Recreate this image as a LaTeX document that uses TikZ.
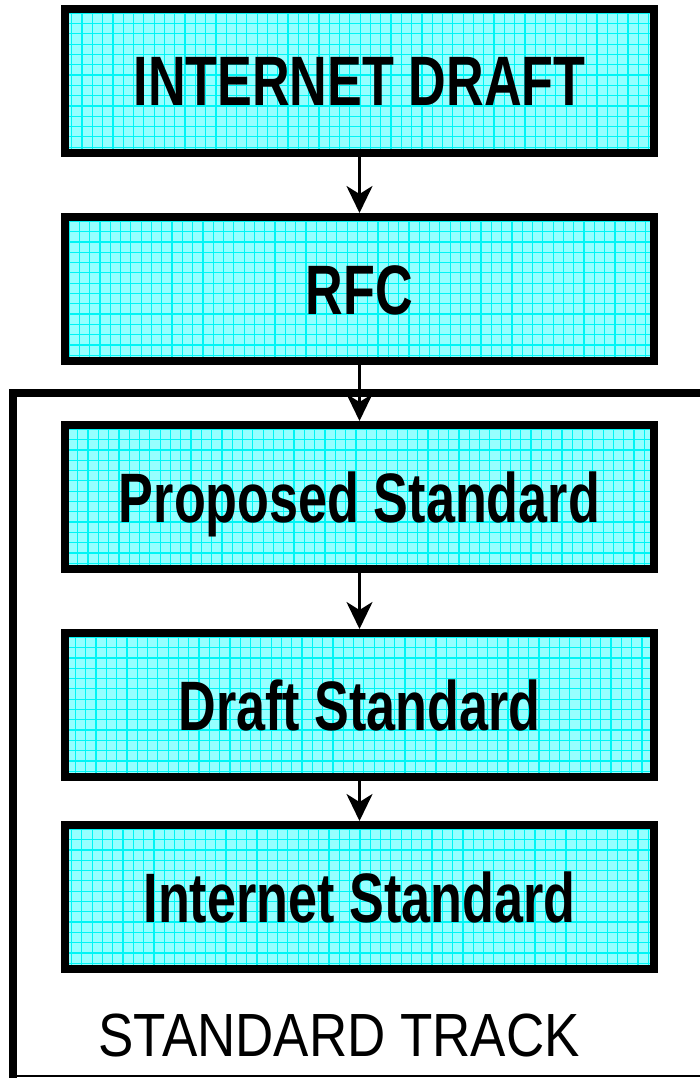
\documentclass[tikz,border=0pt]{standalone}
\usepackage{fontspec}
\setmainfont{Liberation Sans}
\usetikzlibrary{arrows.meta}
\definecolor{boxfill}{RGB}{150,255,255}
\definecolor{gridcol}{RGB}{0,245,245}
\tikzset{
  stagebox/.style={draw=black, line width=8pt, fill=boxfill,
    minimum width=589pt, minimum height=144pt, inner sep=0pt,
    text height=50pt, text depth=0pt,
    font=\fontsize{70}{80}\selectfont\bfseries,
    path picture={\draw[gridcol, line width=1.2pt]
      ([xshift=-0.5pt,yshift=0.5pt]path picture bounding box.south west) grid[step=10.3pt]
      (path picture bounding box.north east);}},
  flow/.style={line width=3pt, -{Stealth[length=27pt,width=26pt,inset=8pt]}},
  frameline/.style={line width=8pt},
}
\newcommand{\cond}[1]{\scalebox{0.745}[1]{#1}}
\begin{document}
\begin{tikzpicture}[x=1pt,y=-1pt]
\useasboundingbox (0,0) rectangle (700,1078);
\node[stagebox] (id) at (359.5,81) {\cond{INTERNET DRAFT}};
\node[stagebox] (rfc) at (359.5,289) {\cond{RFC}};
\node[stagebox] (ps) at (359.5,497) {\cond{Proposed Standard}};
\node[stagebox] (ds) at (359.5,705) {\cond{Draft Standard}};
\node[stagebox] (is) at (359.5,897) {\cond{Internet Standard}};
\draw[flow] (id.south) -- (rfc.north);
\draw[flow] (rfc.south) -- (ps.north);
\draw[flow] (ps.south) -- (ds.north);
\draw[flow] (ds.south) -- (is.north);
\coordinate (tr) at (700,393);
\coordinate (tl) at (13,393);
\coordinate (bl) at (13,1078);
\coordinate (bl2) at (13,1076);
\coordinate (br) at (700,1076);
\draw[frameline] (tr) -- (tl) -- (bl);
\draw[line width=1.5pt] (bl2) -- (br);
\node[font=\fontsize{61}{70}\selectfont] (lab) at (339,1035) {\scalebox{0.868}[1]{STANDARD TRACK}};
\end{tikzpicture}
\end{document}
